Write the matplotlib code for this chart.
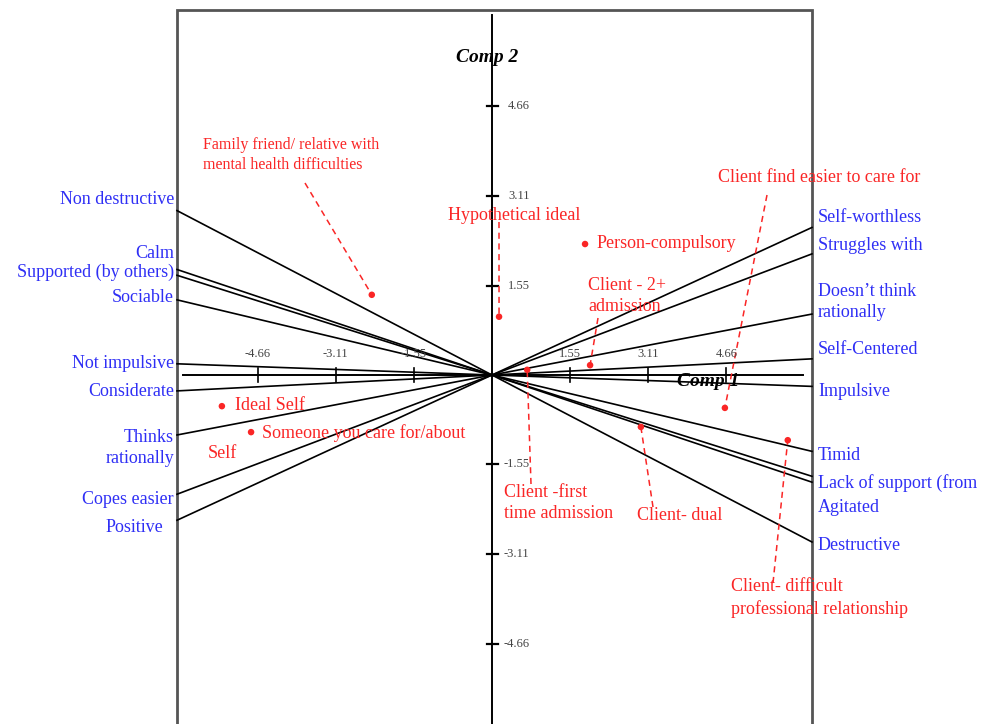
import matplotlib
matplotlib.use("Agg")
import matplotlib.pyplot as plt

plt.rcParams["font.family"] = ["Liberation Serif", "DejaVu Serif"]

# construct poles: right-hand pole, opposite left-hand pole, and the slope
# of the construct line (Comp 2 per unit of Comp 1)
right_poles = ["Self-worthless", "Struggles with", "Doesn\u2019t think\nrationally",
               "Self-Centered", "Impulsive", "Timid", "Lack of support (from",
               "Agitated", "Destructive"]
left_poles = ["Positive", "Copes easier", "Thinks\nrationally", "Considerate",
              "Not impulsive", "Sociable", "Supported (by others)", "Calm",
              "Non destructive"]
construct_slope = [0.402, 0.330, 0.166, 0.044, -0.031, -0.208, -0.276, -0.292, -0.455]

# elements: name and position on the first two components
elements = ["Family friend/ relative with\nmental health difficulties",
            "Hypothetical ideal", "Person-compulsory", "Client - 2+\nadmission",
            "Client find easier to care for", "Ideal Self",
            "Someone you care for/about", "Client -first\ntime admission",
            "Client- dual", "Client- difficult\nprofessional relationship"]
comp1 = [-2.39, 0.14, 1.85, 1.95, 4.63, -5.37, -4.79, 0.70, 2.96, 5.88]
comp2 = [1.39, 1.01, 2.27, 0.17, -0.57, -0.54, -0.99, 0.09, -0.90, -1.13]

ticks = [-4.66, -3.11, -1.55, 1.55, 3.11, 4.66]
tick_labels = ["-4.66", "-3.11", "-1.55", "1.55", "3.11", "4.66"]

BLUE = "#2f2ff5"
RED = "#fa2626"
GREY = "#555555"
FS = 13

X0, Y0, SX, SY = 492, 375, 50.3, 57.7   # origin pixel and pixels per unit


def px(x, y):
    return (x - X0) / SX, (Y0 - y) / SY


fig = plt.figure(figsize=(9.89, 7.24), dpi=100)
ax = fig.add_axes([0, 0, 1, 1])
ax.set_xlim(px(0, 0)[0], px(989, 0)[0])
ax.set_ylim(px(0, 724)[1], px(0, 0)[1])
ax.axis("off")

left, top = px(177, 10)
right, bottom = px(812, 724)

# frame around the plotting area
ax.plot([left, left, right, right], [bottom, top, top, bottom],
        color=GREY, lw=2, solid_joinstyle="miter")

# component axes
ax.plot([px(183, 0)[0], px(803, 0)[0]], [0, 0], color="black", lw=1.4)
ax.plot([0, 0], [bottom, px(0, 15)[1]], color="black", lw=1.4)
for t, lab in zip(ticks, tick_labels):
    ax.plot([t, t], [-0.12, 0.12], color="black", lw=1.2)
    ax.text(t, 0.32, lab, ha="center", va="baseline", fontsize=9, color="#444444")
    ax.plot([-0.1, 0.12], [t, t], color="black", lw=1.6)
    ax.text(0.32 if t > 0 else 0.22, t, lab, ha="left", va="center",
            fontsize=9, color="#444444")

ax.text(*px(487, 57), "Comp 2", ha="center", va="center", fontsize=14,
        fontweight="bold", fontstyle="italic")
ax.text(*px(708, 381), "Comp 1", ha="center", va="center", fontsize=14,
        fontweight="bold", fontstyle="italic")

# construct lines through the origin
for s in construct_slope:
    ax.plot([left, right], [s * left, s * right], color="black", lw=1.2)

right_label_y = [218, 245, 302, 349, 391, 455, 483, 507, 545]
left_label_y = [527, 499, 448, 391, 363, 298, 272, 254, 200]
for lab, y in zip(right_poles, right_label_y):
    ax.text(*px(818, y), lab, ha="left", va="center", fontsize=FS,
            color=BLUE, linespacing=1.3)
for lab, y in zip(left_poles, left_label_y):
    xr = 163 if lab == "Positive" else 174
    ax.text(*px(xr, y), lab, ha="right", va="center", fontsize=FS,
            color=BLUE, linespacing=1.3)

# elements
ax.scatter(comp1, comp2, s=22, color=RED, zorder=5, edgecolors="none")

# label anchor (left x, centre y in pixels), font size, and dashed leader start
label_pos = [(203, 155, 11.5, (305, 183)),
             (448, 215, FS, (499, 222)),
             (597, 244, FS, None),
             (588, 296, FS, (598, 318)),
             (718, 177, FS, (767, 195)),
             (235, 406, FS, None),
             (262, 433, FS, None),
             (504, 503, FS, (531, 484)),
             (637, 516, FS, (653, 507)),
             (731, 598, FS, (773, 583))]
for name, x, y, (lx, ly, fs, lead) in zip(elements, comp1, comp2, label_pos):
    ax.text(*px(lx, ly), name, ha="left", va="center", fontsize=fs,
            color=RED, linespacing=1.3)
    if lead is not None:
        ax.plot([px(*lead)[0], x], [px(*lead)[1], y], color=RED, lw=1.1,
                ls=(0, (4, 3)))

ax.text(*px(208, 453), "Self", ha="left", va="center", fontsize=FS, color=RED)

fig.savefig("out.png", dpi=100)
